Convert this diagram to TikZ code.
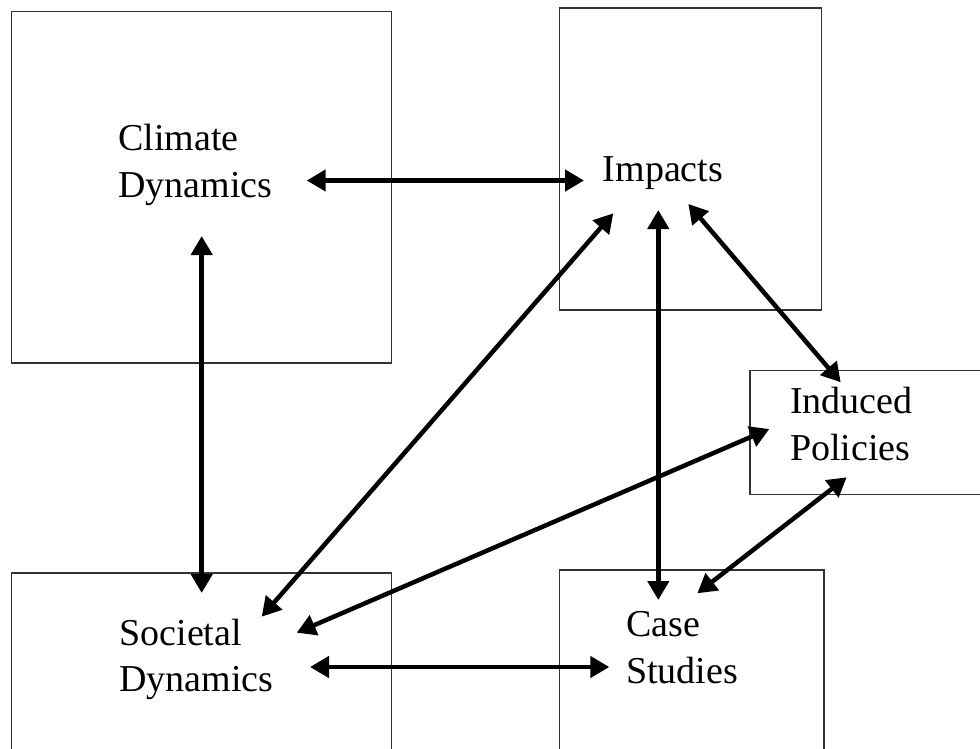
\documentclass[tikz,border=0pt]{standalone}
\usepackage{fontspec}
\setmainfont{Liberation Serif}
\usetikzlibrary{arrows.meta}
\begin{document}
\begin{tikzpicture}[x=1pt,y=-1pt,
  box/.style={draw=black!80,line width=1.3pt,rectangle,anchor=north west,inner sep=0pt},
  label/.style={anchor=base west,inner sep=0pt,align=left,
    font=\fontsize{38}{46.5}\selectfont},
  link/.style={line width=4.5pt,{Triangle[length=19pt,width=21pt]}-{Triangle[length=19pt,width=21pt]}}]
  \useasboundingbox (0,0) rectangle (980,749);
  \clip (0,0) rectangle (980,749);
  \fill[white] (0,0) rectangle (980,749);

  % boxes
  \node[box,minimum width=380pt,minimum height=351.6pt] (climate) at (10.7,10.7) {};
  \node[box,minimum width=261.7pt,minimum height=302pt] (impacts) at (559,7.3) {};
  \node[box,minimum width=240pt,minimum height=124pt] (induced) at (749.3,370) {};
  \node[box,minimum width=380pt,minimum height=190pt] (societal) at (10.7,572.3) {};
  \node[box,minimum width=264.3pt,minimum height=190pt] (case) at (559,569.3) {};

  % labels (anchored at the baseline of their last line)
  \node[label] (climateT) at (118,197) {Climate\\Dynamics};
  \node[label] (impactsT) at (602.7,181.7) {Impacts};
  \node[label] (inducedT) at (790,460) {Induced\\Policies};
  \node[label] (societalT) at (119.3,691.7) {Societal\\Dynamics};
  \node[label] (caseT) at (626,683.3) {Case\\Studies};

  % arrow end points
  \coordinate (cl-e) at (306.7,180.5);
  \coordinate (cl-s) at (201.7,236);
  \coordinate (im-w) at (584,180.5);
  \coordinate (im-sw) at (613.3,213.3);
  \coordinate (im-s) at (658.3,210);
  \coordinate (im-se) at (688.3,204);
  \coordinate (in-n) at (840.7,382.3);
  \coordinate (in-w) at (769.3,429);
  \coordinate (in-s) at (846.7,477.3);
  \coordinate (so-n) at (201.7,593);
  \coordinate (so-ne) at (261.7,616.7);
  \coordinate (so-e) at (296.7,632.7);
  \coordinate (so-ee) at (310,667);
  \coordinate (ca-n) at (658.3,600);
  \coordinate (ca-ne) at (697.3,593.3);
  \coordinate (ca-w) at (609.3,667);

  % connectors
  \draw[link] (cl-e) -- (im-w);
  \draw[link] (cl-s) -- (so-n);
  \draw[link] (im-sw) -- (so-ne);
  \draw[link] (im-s) -- (ca-n);
  \draw[link] (im-se) -- (in-n);
  \draw[link] (in-w) -- (so-e);
  \draw[link] (in-s) -- (ca-ne);
  \draw[link] (so-ee) -- (ca-w);
\end{tikzpicture}
\end{document}
